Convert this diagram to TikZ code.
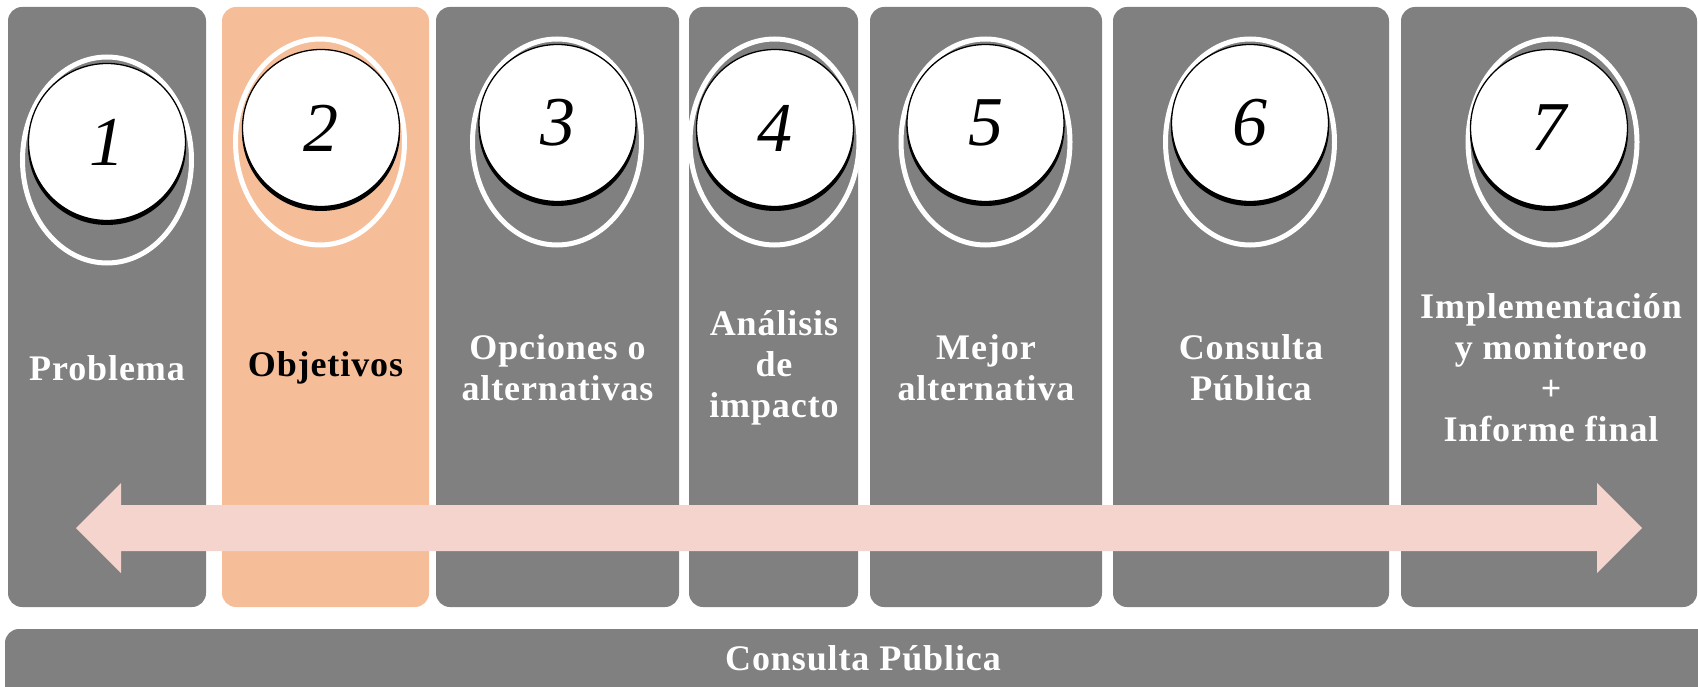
\documentclass[tikz,border=0pt]{standalone}
\usepackage{fontspec}
\setmainfont{Liberation Serif}
\newfontfamily\labelfont[LetterSpace=2.5]{Liberation Serif}
\definecolor{boxgrey}{HTML}{808080}
\definecolor{peach}{HTML}{F6BE98}
\definecolor{arrowpink}{HTML}{F4D4CD}
\tikzset{
  stagebox/.style={fill=boxgrey, rounded corners=14pt, inner sep=0pt, minimum height=600pt},
  hilitebox/.style={stagebox, fill=peach},
  ring/.style={draw=white, line width=5pt},
  disc/.style={fill=white, draw=black, line width=1.3pt},
  discshadow/.style={fill=black},
  numtxt/.style={font=\fontsize{70}{72}\selectfont\itshape, text=black},
  label/.style={font=\labelfont\fontsize{36}{41}\selectfont\bfseries, text=white, align=center},
  darklabel/.style={label, text=black},
}
\begin{document}
\begin{tikzpicture}[x=1pt,y=-1pt]
\useasboundingbox (0,0) rectangle (1698,687);
\begin{scope}
\clip (0,0) rectangle (1698,687);
% stage boxes
\node[stagebox, minimum width=198pt] (b1) at (107,307) {};
\node[hilitebox, minimum width=207pt] (b2) at (325.5,307) {};
\node[stagebox, minimum width=243pt] (b3) at (557.5,307) {};
\node[stagebox, minimum width=169pt] (b4) at (773.5,307) {};
\node[stagebox, minimum width=232pt] (b5) at (986,307) {};
\node[stagebox, minimum width=276pt] (b6) at (1251,307) {};
\node[stagebox, minimum width=296pt] (b7) at (1549,307) {};
% bottom bar
\node[fill=boxgrey, rounded corners=14pt, inner sep=0pt, minimum width=1715pt, minimum height=90pt] (bar) at (862.5,674) {};
\node[label] (barlabel) at (863,658) {Consulta Pública};
% ellipses and discs
\foreach \n/\ex/\ey/\cx/\cy in {1/107/160/107/142, 2/320/142/321/128, 3/557/142/557.5/123, 4/774.5/142/775/128, 5/985.5/142/985.5/123, 6/1250/142/1250/123, 7/1552.5/142/1549/128}{
  \draw[ring] (\ex,\ey) ellipse [x radius=84.5pt, y radius=103pt];
  \fill[discshadow] (\cx,\cy+4) circle (79pt);
  \draw[disc] (\cx,\cy) circle (78.5pt);
  \node[numtxt] (n\n) at (\cx,\cy) {\n};
}
% labels
\node[label] (t1) at (107,368) {Problema};
\node[darklabel] (t2) at (325.5,368) {Objetivos};
\node[label] (t3) at (557.5,368) {Opciones o\\alternativas};
\node[label] (t4) at (774,368) {Análisis\\de\\impacto};
\node[label] (t5) at (986,368) {Mejor\\alternativa};
\node[label] (t6) at (1251,368) {Consulta\\Pública};
\node[label] (t7) at (1551,368) {Implementación\\y monitoreo\\+\\Informe final};
% double arrow
\coordinate (lt) at (76,528);
\coordinate (rt) at (1642,528);
\fill[arrowpink] (lt) -- ([xshift=45pt,yshift=-45pt]lt) -- ([xshift=45pt,yshift=-23pt]lt)
  -- ([xshift=-45pt,yshift=-23pt]rt) -- ([xshift=-45pt,yshift=-45pt]rt) -- (rt)
  -- ([xshift=-45pt,yshift=45pt]rt) -- ([xshift=-45pt,yshift=23pt]rt)
  -- ([xshift=45pt,yshift=23pt]lt) -- ([xshift=45pt,yshift=45pt]lt) -- cycle;
\end{scope}
\end{tikzpicture}
\end{document}
